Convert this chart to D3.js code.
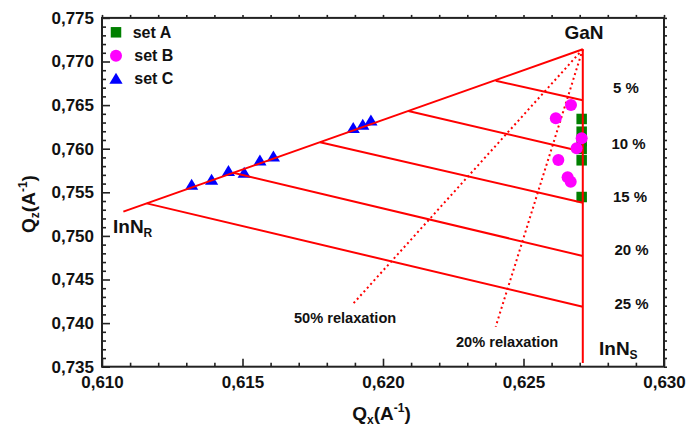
<!DOCTYPE html>
<html>
<head>
<meta charset="utf-8">
<script src="https://cdn.jsdelivr.net/npm/d3@7"></script>
<style>
  html, body { margin: 0; padding: 0; background: #fff; }
  svg { display: block; font-family: "Liberation Sans", Arial, sans-serif; font-weight: bold; }
</style>
</head>
<body>
<svg id="chart" width="688" height="429"></svg>
<script>
// ---------- data ----------
const xTickValues = [0.610, 0.615, 0.620, 0.625, 0.630];
const xTickLabels = ["0,610", "0,615", "0,620", "0,625", "0,630"];
const yTickValues = [0.735, 0.740, 0.745, 0.750, 0.755, 0.760, 0.765, 0.770, 0.775];
const yTickLabels = ["0,735", "0,740", "0,745", "0,750", "0,755", "0,760", "0,765", "0,770", "0,775"];

const setA_Qx = [0.62707, 0.62707, 0.62707, 0.62707, 0.62707, 0.62707];
const setA_Qz = [0.76341, 0.76195, 0.76088, 0.75997, 0.75867, 0.75446];

const setB_Qx = [0.62669, 0.62615, 0.62707, 0.62689, 0.62624, 0.62657, 0.62668];
const setB_Qz = [0.76501, 0.76349, 0.76119, 0.76005, 0.75870, 0.75672, 0.75622];

const setC_Qx = [0.61319, 0.61390, 0.61450, 0.61506, 0.61562, 0.61610, 0.61894, 0.61928, 0.61957];
const setC_Qz = [0.75592, 0.75649, 0.75748, 0.75729, 0.75870, 0.75916, 0.76241, 0.76280, 0.76329];

const ganPoint = [0.62711, 0.77140];
const innRPoint = [0.61076, 0.75278];
const strainedBottomQz = 0.73542;

const compositions = ["5 %", "10 %", "15 %", "20 %", "25 %"];
const relaxedQx = [0.62401, 0.62090, 0.61776, 0.61467, 0.61159];
const relaxedQz = [0.76780, 0.76432, 0.76073, 0.75724, 0.75373];
const strainedQz = [0.76555, 0.75966, 0.75381, 0.74770, 0.74188];

const relaxLabels = ["50% relaxation", "20% relaxation"];
const relaxEndQx = [0.61892, 0.62401];
const relaxEndQz = [0.74216, 0.73959];

const seriesNames = ["set A", "set B", "set C"];

// ---------- layout ----------
const plot = { left: 102, right: 664, top: 17.9, bottom: 366.7 };
const svg = d3.select("#chart");
const x = d3.scaleLinear().domain([0.610, 0.630]).range([plot.left, plot.right]);
const y = d3.scaleLinear().domain([0.735, 0.775]).range([plot.bottom, plot.top]);
const axisColor = "#222";
const red = "#ff0000";
const font = "'Liberation Sans', Arial, sans-serif";

const minorX = d3.range(0, 21).map(i => 0.610 + i * 0.001).filter(v => !xTickValues.some(t => Math.abs(t - v) < 1e-9));
const minorY = d3.range(0, 41).map(i => 0.735 + i * 0.001).filter(v => !yTickValues.some(t => Math.abs(t - v) < 1e-9));
const allX = d3.range(0, 21).map(i => 0.610 + i * 0.001);
const allY = d3.range(0, 41).map(i => 0.735 + i * 0.001);

function styleAxis(g) {
  g.select(".domain").remove();
  g.selectAll("line").attr("stroke", axisColor).attr("stroke-width", 1.6);
  g.selectAll("text").attr("fill", "#111").attr("font-size", 17).attr("font-family", font).attr("font-weight", "bold");
}

svg.append("g").attr("transform", `translate(0,${plot.bottom})`)
  .call(d3.axisBottom(x).tickValues(xTickValues).tickSizeInner(-8).tickSizeOuter(0).tickPadding(9)
    .tickFormat((d, i) => xTickLabels[i]))
  .call(styleAxis);
svg.append("g").attr("transform", `translate(0,${plot.bottom})`)
  .call(d3.axisBottom(x).tickValues(minorX).tickSizeInner(-4).tickSizeOuter(0).tickFormat(""))
  .call(styleAxis);
svg.append("g").attr("transform", `translate(${plot.left},0)`)
  .call(d3.axisLeft(y).tickValues(yTickValues).tickSizeInner(-8).tickSizeOuter(0).tickPadding(8)
    .tickFormat((d, i) => yTickLabels[i]))
  .call(styleAxis);
svg.append("g").attr("transform", `translate(${plot.left},0)`)
  .call(d3.axisLeft(y).tickValues(minorY).tickSizeInner(-4).tickSizeOuter(0).tickFormat(""))
  .call(styleAxis);
svg.append("g").attr("transform", `translate(0,${plot.top})`)
  .call(d3.axisTop(x).tickValues(allX).tickSizeInner(3).tickSizeOuter(0).tickFormat(""))
  .call(styleAxis);
svg.append("g").attr("transform", `translate(${plot.right},0)`)
  .call(d3.axisRight(y).tickValues(allY).tickSizeInner(3).tickSizeOuter(0).tickFormat(""))
  .call(styleAxis);
svg.append("rect").attr("x", plot.left).attr("y", plot.top)
  .attr("width", plot.right - plot.left).attr("height", plot.bottom - plot.top)
  .attr("fill", "none").attr("stroke", axisColor).attr("stroke-width", 2);

// ---------- marks (back layer) ----------
const sq = 10.5;
svg.append("g").selectAll("rect").data(setA_Qx).join("rect")
  .attr("x", (d) => x(d) - sq / 2).attr("y", (d, i) => y(setA_Qz[i]) - sq / 2)
  .attr("width", sq).attr("height", sq).attr("fill", "#008000");

const triPath = "M0,-5.6L6.6,5.4L-6.6,5.4Z";
svg.append("g").selectAll("path").data(setC_Qx).join("path")
  .attr("d", triPath)
  .attr("transform", (d, i) => `translate(${x(d)},${y(setC_Qz[i])})`)
  .attr("fill", "#0000ff");

// ---------- red construction lines ----------
const lines = svg.append("g").attr("fill", "none").attr("stroke", red).attr("stroke-width", 2);
lines.append("line").attr("x1", x(ganPoint[0])).attr("y1", y(ganPoint[1]))
  .attr("x2", x(innRPoint[0])).attr("y2", y(innRPoint[1]));
lines.append("line").attr("x1", x(ganPoint[0])).attr("y1", y(ganPoint[1]))
  .attr("x2", x(ganPoint[0])).attr("y2", y(strainedBottomQz));
compositions.forEach((c, i) => {
  lines.append("line").attr("x1", x(relaxedQx[i])).attr("y1", y(relaxedQz[i]))
    .attr("x2", x(ganPoint[0])).attr("y2", y(strainedQz[i]));
});
relaxLabels.forEach((l, i) => {
  lines.append("line").attr("x1", x(ganPoint[0])).attr("y1", y(ganPoint[1]))
    .attr("x2", x(relaxEndQx[i])).attr("y2", y(relaxEndQz[i]))
    .attr("stroke-dasharray", "2,3").attr("stroke-width", 2);
});

svg.append("g").selectAll("circle").data(setB_Qx).join("circle")
  .attr("cx", d => x(d)).attr("cy", (d, i) => y(setB_Qz[i])).attr("r", 6)
  .attr("fill", "#ff00ff");

// ---------- text annotations ----------
const ann = svg.append("g").attr("font-family", font).attr("font-weight", "bold").attr("fill", "#111");
ann.append("text").attr("x", 564.5).attr("y", 39.3).attr("font-size", 19).text("GaN");

const innR = ann.append("text").attr("x", 113).attr("y", 233.3).attr("font-size", 19);
innR.append("tspan").text("InN");
innR.append("tspan").attr("font-size", 12).attr("dy", 4).text("R");

const innS = ann.append("text").attr("x", 599).attr("y", 355).attr("font-size", 19);
innS.append("tspan").text("InN");
innS.append("tspan").attr("font-size", 12).attr("dy", 4).text("S");

const pctY = [92.7, 149.3, 202.3, 255, 309];
const pctX = [613, 611.5, 613, 614.5, 614.5];
compositions.forEach((c, i) => {
  ann.append("text").attr("x", pctX[i]).attr("y", pctY[i]).attr("font-size", 15).text(c);
});

const relaxPos = [[294, 322.7], [456, 346.7]];
relaxLabels.forEach((l, i) => {
  ann.append("text").attr("x", relaxPos[i][0]).attr("y", relaxPos[i][1]).attr("font-size", 14.6).text(l);
});

const xt = svg.append("text").attr("x", 381.5).attr("y", 420).attr("text-anchor", "middle")
  .attr("font-family", font).attr("font-weight", "bold").attr("font-size", 19).attr("fill", "#111");
xt.append("tspan").text("Q");
xt.append("tspan").attr("font-size", 12).attr("dy", 4).text("x");
xt.append("tspan").attr("dy", -4).text("(A");
xt.append("tspan").attr("font-size", 12).attr("dy", -8).text("-1");
xt.append("tspan").attr("dy", 8).text(")");

const yt = svg.append("text").attr("transform", "translate(35,204) rotate(-90)").attr("text-anchor", "middle")
  .attr("font-family", font).attr("font-weight", "bold").attr("font-size", 19).attr("fill", "#111");
yt.append("tspan").text("Q");
yt.append("tspan").attr("font-size", 12).attr("dy", 4).text("z");
yt.append("tspan").attr("dy", -4).text("(A");
yt.append("tspan").attr("font-size", 12).attr("dy", -8).text("-1");
yt.append("tspan").attr("dy", 8).text(")");

// ---------- legend ----------
const lg = svg.append("g").attr("font-family", font).attr("font-weight", "bold").attr("font-size", 16).attr("fill", "#111");
const legY = [32.3, 55.7, 78.3];
lg.append("rect").attr("x", 116 - sq / 2).attr("y", legY[0] - sq / 2).attr("width", sq).attr("height", sq).attr("fill", "#008000");
lg.append("circle").attr("cx", 116).attr("cy", legY[1]).attr("r", 6).attr("fill", "#ff00ff");
lg.append("path").attr("d", triPath).attr("transform", `translate(116,${legY[2]})`).attr("fill", "#0000ff");
seriesNames.forEach((s, i) => {
  lg.append("text").attr("x", i === 0 ? 132.7 : 134.3).attr("y", legY[i] + 5.5).text(s);
});
</script>
</body>
</html>
